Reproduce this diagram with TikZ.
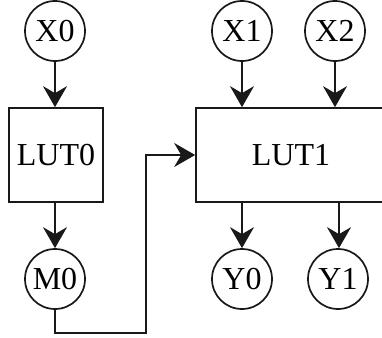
\documentclass[tikz,border=0pt]{standalone}
\usepackage{fontspec}
\setmainfont{Liberation Serif}
\usetikzlibrary{arrows.meta}
\begin{document}
\begin{tikzpicture}[x=1pt,y=-1pt,
  every node/.style={font=\fontsize{32}{36}\selectfont, text=black},
  sig/.style={circle,draw=black!90,line width=1.7pt,minimum size=60pt,inner sep=0pt},
  lut/.style={rectangle,draw=black!90,line width=1.7pt,inner sep=0pt},
  conn/.style={draw=black!90,line width=1.7pt,-{Stealth[length=21pt,width=24pt,inset=7pt]}}]
\useasboundingbox (0,0) rectangle (382,337);
\node[sig] (X0) at (55,31) {X0};
\node[sig] (X1) at (242,31) {X1};
\node[sig] (X2) at (335,31) {X2};
\node[lut,minimum width=94pt,minimum height=94pt] (LUT0) at (56,155) {LUT0};
\node[lut,minimum width=190pt,minimum height=94pt] (LUT1) at (291,155) {LUT1};
\node[sig] (M0) at (55,279) {M0};
\node[sig] (Y0) at (242,279) {Y0};
\node[sig] (Y1) at (338,279) {Y1};
\coordinate (c1) at (55,333);
\coordinate (c2) at (146,333);
\coordinate (c3) at (146,155);
\draw[conn] (X0.south) -- (X0.south |- LUT0.north);
\draw[conn] (X1.south) -- (X1.south |- LUT1.north);
\draw[conn] (X2.south) -- (X2.south |- LUT1.north);
\draw[conn] (LUT0.south -| M0.north) -- (M0.north);
\draw[conn] (Y0.north |- LUT1.south) -- (Y0.north);
\draw[conn] ([xshift=1pt]Y1.north |- LUT1.south) -- ([xshift=1pt]Y1.north);
\draw[conn] (M0.south) -- (c1) -- (c2) -- (c3) -- (LUT1.west);
\end{tikzpicture}
\end{document}
